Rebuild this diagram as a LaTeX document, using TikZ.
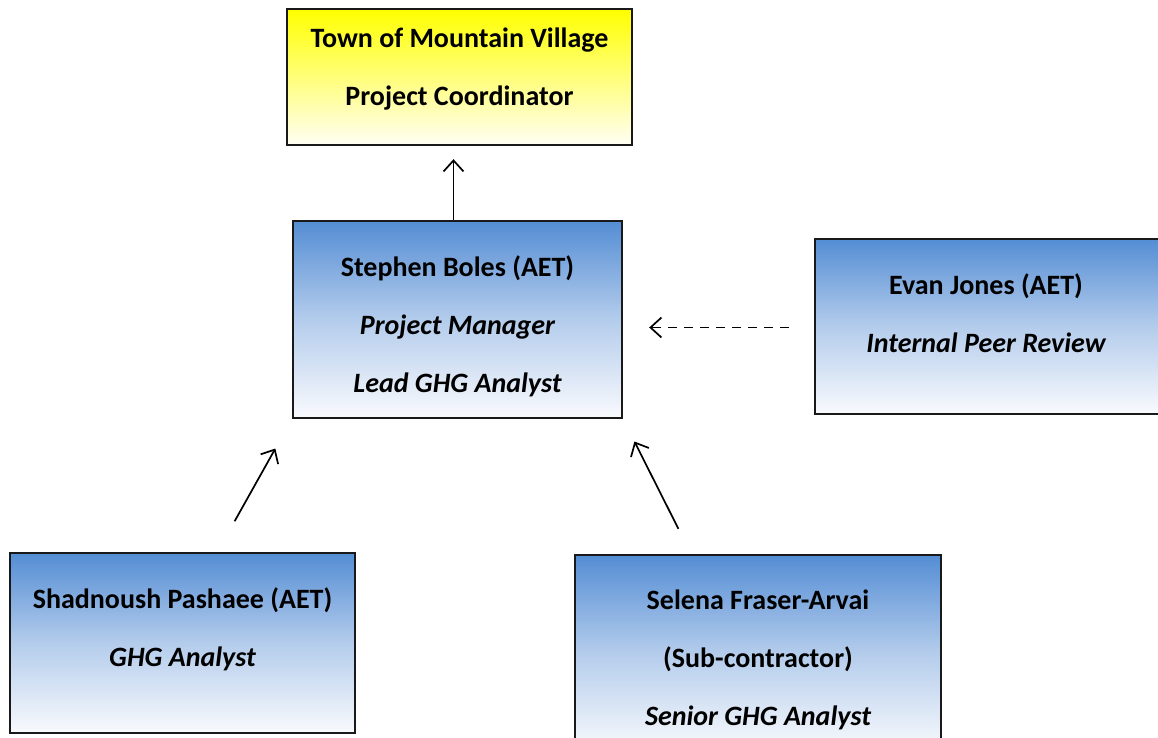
\documentclass[tikz,border=0pt]{standalone}
\usepackage{fontspec}
\setmainfont{Carlito}
\usetikzlibrary{arrows.meta}

\definecolor{officeblue}{HTML}{548DD4}
\definecolor{paleblue}{HTML}{F9FAFD}
\definecolor{paleyellow}{HTML}{FFFEF4}

\tikzset{
	box/.style = {draw = black!90, line width = 1.2pt, inner sep = 0pt},
	bluebox/.style = {box, top color = officeblue, bottom color = paleblue, middle color = officeblue!42!paleblue},
	yellowbox/.style = {box, top color = yellow, bottom color = paleyellow},
	boxtext/.style = {anchor = base, align = center, inner sep = 0pt, font = \fontsize{14}{29}\selectfont\bfseries},
	link/.style = {line width = 0.85pt, ->}
}

\begin{document}
\begin{tikzpicture}[x = 0.5pt, y = -0.5pt, >={Straight Barb[length = 5.5pt, width = 10pt]}]
		\useasboundingbox (0, 0) rectangle (1158, 738);
		\clip (0, 0) rectangle (1158, 738);
		\node[yellowbox, minimum width = 172.5pt, minimum height = 68pt] (coord) at (459.5, 77) {};
		\node[bluebox, minimum width = 164.5pt, minimum height = 98.5pt] (pm) at (457.5, 319.5) {};
		\node[bluebox, minimum width = 180pt, minimum height = 87.5pt] (review) at (995, 326.5) {};
		\node[bluebox, minimum width = 172.5pt, minimum height = 90pt] (analyst) at (182.5, 643) {};
		\node[bluebox, minimum width = 183pt, minimum height = 98pt] (senior) at (758, 653) {};
		\node[boxtext] (coordtxt) at (459.5, 106) {Town of Mountain Village\\Project Coordinator};
		\node[boxtext] (pmtxt) at (457.5, 392) {Stephen Boles (AET)\\\itshape Project Manager\\\itshape Lead GHG Analyst};
		\node[boxtext] (reviewtxt) at (986, 352) {Evan Jones (AET)\\\itshape Internal Peer Review};
		\node[boxtext] (analysttxt) at (182.5, 666) {Shadnoush Pashaee (AET)\\\itshape GHG Analyst};
		\node[boxtext] (seniortxt) at (758, 725) {Selena Fraser-Arvai\\(Sub-contractor)\\\itshape Senior GHG Analyst};
		\coordinate (analystout) at ([xshift = 17.5pt]analyst.north);
		\coordinate (seniorout) at ([xshift = -33.5pt]senior.north);
		\draw[link, shorten >= 6.5pt] ([xshift = -2pt]pm.north) -- ([xshift = -3pt]coord.south);
		\draw[link, dashed, dash pattern = on 4.5pt off 3.5pt, shorten <= 12.5pt, shorten >= 13pt] ([yshift = -0.5pt]review.west) -- ([yshift = -0.5pt]review.west -| pm.east);
		\draw[link, shorten <= 17.5pt, shorten >= 16.8pt] (analystout) -- (pm.south west);
		\draw[link, shorten <= 14pt, shorten >= 12.5pt] (seniorout) -- (pm.south east);
		\end{tikzpicture}
\end{document}
